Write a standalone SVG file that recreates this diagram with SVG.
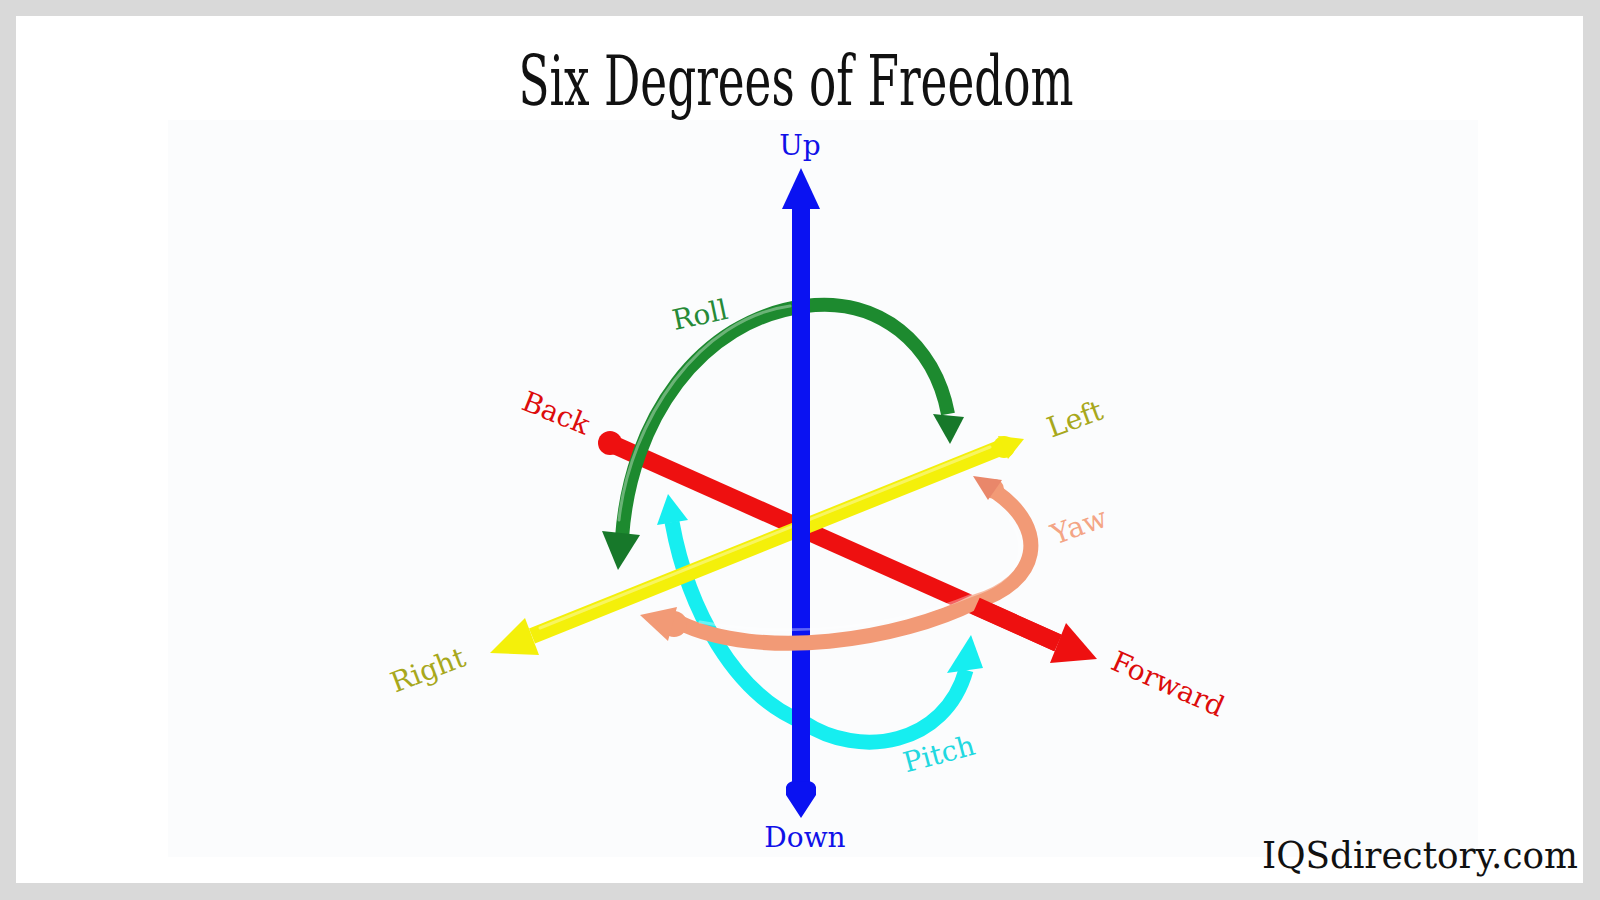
<svg xmlns="http://www.w3.org/2000/svg" width="1600" height="900" viewBox="0 0 1600 900">
<style>
.lbl{font-family:"DejaVu Serif","Liberation Serif",serif;font-size:28px;text-anchor:middle;dominant-baseline:central}
.tube{fill:none;stroke-linecap:butt}
.hl{fill:none;stroke:#ffffff;stroke-opacity:0.35;stroke-width:3;stroke-linecap:round}
</style>
<rect x="0" y="0" width="1600" height="900" fill="#d9d9d9"/>
<rect x="16" y="16" width="1567" height="867" fill="#ffffff"/>
<rect x="168" y="120" width="1310" height="737" fill="#fbfcfd"/>

<g id="title">
<text x="796" y="105" font-family="DejaVu Serif, Liberation Serif, serif" font-size="70" text-anchor="middle" textLength="555" lengthAdjust="spacingAndGlyphs" fill="#111">Six Degrees of Freedom</text>
</g>

<g id="connectors">
<g id="pitch-arrow">
<path class="tube" d="M 672 522 C 688 610, 735 695, 803 722 C 860 760, 945 745, 966 670" stroke="#16eef0" stroke-width="15"/>
<polygon points="668,494 657,525 688,520" fill="#16eef0"/>
<polygon points="971,635 947,673 983,668" fill="#16eef0"/>
</g>
<g id="red-axis">
<line x1="612" y1="444" x2="1058" y2="643" stroke="#ee1010" stroke-width="18"/>
<circle cx="610" cy="443" r="12" fill="#ee1010"/>
</g>
<g id="yellow-axis">
<line x1="532" y1="636" x2="1005" y2="446" stroke="#f4f00a" stroke-width="16"/>
<polygon points="490,653 525,618 539,655" fill="#f4f00a"/>
<circle cx="1004" cy="447" r="11" fill="#f4f00a"/>
<polygon points="1024,439 998,436 1008,459" fill="#f4f00a"/>
<line x1="540" y1="628" x2="990" y2="447" class="hl"/>
</g>
<g id="roll-arrow">
<path class="tube" d="M 622 538 C 630 420, 700 320, 805 306 C 880 296, 935 345, 948 414" stroke="#1d8a2f" stroke-width="14"/>
<path class="hl" d="M 619 520 C 630 420, 700 318, 790 306"/>
<polygon points="602,531 640,535 618,570" fill="#17782a"/>
<polygon points="933,414 964,417 950,444" fill="#17782a"/>
</g>
<g id="blue-axis">
<line x1="801" y1="205" x2="801" y2="790" stroke="#0a12f2" stroke-width="18"/>
<polygon points="801,168 782,209 820,209" fill="#0a12f2"/>
<path d="M 786 787 Q 788 779 801 782 Q 814 779 816 787 L 816 795 L 801 818 L 786 795 Z" fill="#0a12f2"/>
</g>
<g id="yaw-arrow">
<path class="tube" d="M 996 492 C 1050 530, 1040 582, 975 602 C 900 640, 760 662, 678 622" stroke="#f29a76" stroke-width="15"/>
<path class="hl" d="M 1010 520 C 1030 550, 1020 580, 970 596 C 900 625, 800 640, 700 622"/>
<circle cx="994" cy="489" r="10" fill="#f29a76"/>
<polygon points="973,476 1002,480 988,500" fill="#e9876a"/>
<circle cx="674" cy="624" r="13" fill="#f29a76"/>
<polygon points="640,615 677,607 668,641" fill="#f29a76"/>
</g>
<g id="red-forward">
<line x1="976" y1="606" x2="1058" y2="643" stroke="#ee1010" stroke-width="18"/>
<polygon points="1066,623 1097,659 1050,663" fill="#ee1010"/>
</g>
</g>

<g id="label-up"><text class="lbl" x="800" y="145" fill="#1010e8">Up</text></g>
<g id="label-down"><text class="lbl" x="805" y="837" fill="#1010e8">Down</text></g>
<g id="label-roll"><text class="lbl" x="700" y="315" fill="#268a37" transform="rotate(-12 700 315)">Roll</text></g>
<g id="label-back"><text class="lbl" x="556" y="413" fill="#dd0c0c" transform="rotate(22 556 413)">Back</text></g>
<g id="label-left"><text class="lbl" x="1075" y="419" fill="#a8a81c" transform="rotate(-20 1075 419)">Left</text></g>
<g id="label-yaw"><text class="lbl" x="1079" y="526" fill="#f4a585" transform="rotate(-20 1079 526)">Yaw</text></g>
<g id="label-right"><text class="lbl" x="428" y="670" fill="#a8a81c" transform="rotate(-21 428 670)">Right</text></g>
<g id="label-forward"><text class="lbl" x="1168" y="684" fill="#dd0c0c" transform="rotate(24 1168 684)">Forward</text></g>
<g id="label-pitch"><text class="lbl" x="939" y="754" fill="#22d8e0" transform="rotate(-15 939 754)">Pitch</text></g>

<g id="watermark">
<text x="1262" y="868" font-family="DejaVu Serif, Liberation Serif, serif" font-size="38" textLength="316" lengthAdjust="spacingAndGlyphs" fill="#111">IQSdirectory.com</text>
</g>
</svg>
